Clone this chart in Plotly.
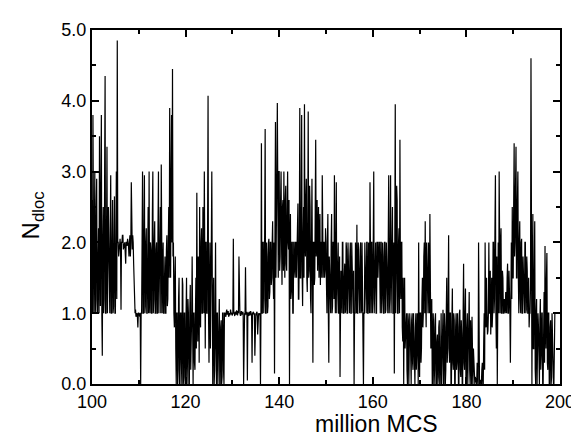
import plotly.graph_objects as go

# Time axis: samples every 0.1 million MCS starting at 100
t_start = 100.0
t_step = 0.1

# N_dloc values, one list per 5 million MCS
n_dloc_100 = [2.6, 1.0, 3.8, 1.5, 1.0, 2.0, 3.0, 1.0, 1.2, 2.5, 2.9, 1.0, 1.0, 1.8, 2.2, 1.0, 3.5, 2.0, 1.1, 2.8, 3.8, 1.0, 0.4, 2.0, 2.5, 1.0, 1.2, 3.0, 4.35, 1.0, 1.0, 2.0, 3.35, 1.0, 1.5, 2.5, 2.0, 1.0, 1.0, 2.2, 2.95, 1.0, 1.0, 2.0, 2.6, 1.0, 1.1, 2.0, 2.65, 1.0]
n_dloc_105 = [1.0, 2.0, 3.0, 1.2, 4.85, 2.0, 2.0, 1.8, 1.9, 2.0, 2.05, 1.9, 1.05, 2.0, 2.0, 2.1, 2.1, 1.9, 1.95, 2.0, 2.0, 1.85, 1.7, 2.0, 2.0, 1.95, 2.05, 2.0, 1.95, 1.8, 2.0, 2.1, 1.8, 2.0, 2.85, 1.9, 1.9, 2.1, 2.0, 1.7, 1.5, 1.2, 1.0, 1.05, 0.95, 1.0, 1.0, 0.95, 0.8, 1.0]
n_dloc_110 = [1.0, 0.98, 0.95, 1.0, 0.0, 1.0, 1.0, 2.0, 3.0, 1.0, 1.0, 2.2, 2.95, 1.0, 1.1, 2.0, 2.2, 1.0, 1.0, 1.8, 2.5, 1.0, 3.0, 1.2, 1.0, 2.0, 1.9, 1.0, 1.0, 2.4, 3.0, 1.0, 1.2, 2.0, 2.3, 1.0, 1.0, 1.9, 2.0, 1.0, 1.0, 2.2, 3.0, 1.0, 1.3, 2.0, 2.5, 1.0, 3.1, 1.2]
n_dloc_115 = [1.0, 1.6, 2.0, 1.0, 1.0, 1.5, 1.8, 1.0, 1.0, 1.9, 2.1, 1.1, 1.2, 2.0, 2.5, 1.5, 3.9, 2.0, 1.5, 3.0, 3.8, 2.0, 4.45, 1.8, 2.0, 1.0, 0.8, 1.5, 1.8, 0.5, 0.0, 1.0, 1.0, 0.0, 0.2, 1.2, 1.5, 0.0, 0.0, 1.0, 1.0, 0.3, 0.0, 1.5, 1.4, 0.0, 0.1, 1.0, 1.0, 0.0]
n_dloc_120 = [0.0, 1.0, 1.5, 0.0, 0.3, 1.2, 1.0, 0.0, 0.0, 1.0, 1.4, 0.2, 0.5, 1.0, 1.8, 0.0, 0.0, 1.0, 1.0, 0.3, 0.2, 1.0, 1.5, 0.5, 2.7, 1.0, 0.6, 1.8, 1.5, 0.3, 2.5, 1.0, 0.8, 2.0, 2.2, 1.0, 1.0, 2.5, 2.0, 1.0, 3.0, 1.5, 0.5, 2.0, 2.0, 1.0, 1.0, 2.2, 4.07, 1.0]
n_dloc_125 = [0.3, 1.5, 2.0, 0.5, 1.0, 2.0, 3.0, 1.0, 0.0, 1.2, 1.5, 0.0, 0.2, 1.0, 2.0, 0.5, 0.0, 1.0, 1.0, 0.0, 0.3, 1.0, 1.2, 0.0, 0.0, 0.8, 0.9, 0.0, 0.1, 1.0, 1.0, 0.2, 0.0, 1.0, 1.0, 0.97, 0.95, 1.02, 1.05, 0.98, 1.0, 1.03, 0.95, 1.0, 1.0, 0.97, 1.05, 1.0, 1.0, 0.98]
n_dloc_130 = [0.97, 1.02, 2.05, 1.0, 1.0, 0.96, 1.02, 1.0, 0.98, 1.04, 1.0, 0.97, 1.03, 1.0, 1.8, 1.0, 1.0, 0.97, 0.97, 1.03, 1.0, 0.98, 1.02, 1.0, 0.0, 1.0, 1.0, 0.97, 1.65, 1.0, 0.98, 1.02, 0.05, 1.0, 1.0, 0.96, 1.02, 1.0, 0.97, 1.03, 1.0, 0.98, 0.3, 1.0, 1.0, 1.02, 0.98, 1.0, 0.4, 1.0]
n_dloc_135 = [1.0, 0.97, 1.02, 1.0, 0.7, 1.0, 1.0, 0.98, 0.98, 1.0, 0.0, 1.0, 3.4, 1.0, 1.0, 2.0, 2.0, 1.0, 1.2, 2.2, 3.6, 1.0, 1.0, 2.0, 1.8, 1.0, 1.1, 2.0, 2.05, 1.2, 1.3, 2.0, 2.0, 1.4, 1.5, 2.0, 2.3, 1.5, 1.2, 2.0, 0.15, 2.2, 3.7, 1.5, 2.0, 3.0, 3.97, 1.8, 1.5, 3.0]
n_dloc_140 = [3.0, 1.6, 1.8, 2.6, 3.0, 2.0, 1.4, 2.5, 2.6, 1.6, 3.0, 2.0, 1.5, 2.6, 2.8, 1.7, 1.6, 2.4, 3.0, 2.0, 1.9, 2.6, 0.0, 2.0, 2.4, 1.2, 1.3, 2.0, 2.0, 1.0, 1.0, 2.0, 2.0, 1.6, 1.5, 2.0, 2.0, 1.5, 1.8, 2.0, 2.55, 1.2, 1.2, 2.0, 3.9, 1.5, 1.5, 2.2, 3.8, 1.6]
n_dloc_145 = [1.1, 2.0, 2.5, 1.5, 3.95, 2.0, 1.8, 2.6, 2.9, 1.5, 1.3, 2.2, 3.85, 1.5, 1.6, 2.8, 2.5, 1.2, 1.0, 2.0, 2.9, 1.5, 0.3, 2.0, 2.0, 1.4, 1.5, 2.5, 3.45, 1.8, 2.0, 2.6, 1.6, 2.0, 2.5, 1.5, 2.0, 2.4, 1.4, 2.0, 2.0, 1.5, 2.95, 1.8, 1.5, 2.0, 2.0, 1.5, 1.6, 2.2]
n_dloc_150 = [2.0, 1.4, 1.0, 2.0, 2.4, 1.0, 0.3, 1.8, 1.5, 1.0, 1.0, 2.0, 2.4, 1.0, 1.1, 2.0, 2.0, 1.2, 2.95, 1.5, 1.0, 2.0, 2.85, 1.0, 1.3, 2.0, 2.0, 1.0, 1.0, 1.8, 0.1, 1.0, 1.6, 1.0, 1.0, 2.0, 2.0, 1.0, 1.0, 1.5, 1.7, 1.0, 1.05, 2.0, 1.9, 1.0, 1.0, 2.0, 1.4, 1.0]
n_dloc_155 = [1.0, 1.8, 2.0, 1.0, 1.0, 2.0, 1.5, 1.0, 1.0, 1.6, 0.0, 1.0, 1.0, 2.0, 1.8, 1.0, 2.25, 1.0, 1.0, 2.0, 1.6, 1.0, 1.0, 1.9, 2.0, 1.0, 1.05, 2.0, 1.3, 1.0, 0.0, 1.0, 1.0, 2.0, 1.7, 1.0, 1.0, 2.0, 2.0, 1.0, 1.0, 2.0, 1.5, 1.0, 2.85, 1.5, 1.0, 2.0, 2.0, 1.0]
n_dloc_160 = [1.2, 2.0, 3.0, 1.0, 1.5, 2.0, 2.0, 1.0, 1.0, 2.0, 2.0, 1.5, 1.9, 2.0, 2.0, 1.0, 1.0, 2.0, 2.0, 1.0, 1.2, 2.0, 1.8, 1.0, 1.0, 2.0, 2.0, 1.0, 1.05, 2.0, 1.5, 1.0, 1.0, 2.0, 2.95, 1.0, 1.2, 2.0, 2.95, 1.0, 1.5, 2.0, 2.5, 1.0, 1.0, 2.0, 0.15, 2.0, 3.95, 1.0]
n_dloc_165 = [1.5, 2.8, 2.6, 1.0, 1.0, 2.0, 2.2, 1.0, 3.45, 1.5, 1.2, 2.0, 2.0, 0.8, 0.6, 1.5, 0.0, 1.0, 1.5, 0.5, 0.8, 1.0, 1.0, 0.2, 0.0, 1.0, 0.9, 0.0, 0.3, 1.0, 0.8, 0.0, 0.0, 0.9, 1.0, 0.3, 0.2, 1.0, 0.7, 0.0, 0.0, 0.8, 1.0, 0.2, 0.4, 1.0, 0.9, 0.0, 2.0, 0.5]
n_dloc_170 = [0.1, 1.0, 1.0, 0.3, 0.5, 1.2, 1.5, 0.8, 1.0, 1.8, 2.0, 1.0, 2.3, 1.2, 0.8, 2.0, 1.6, 1.0, 1.0, 2.0, 1.5, 1.0, 2.4, 1.2, 0.5, 1.0, 1.2, 0.0, 0.0, 1.0, 0.8, 0.0, 0.2, 0.9, 1.0, 0.0, 0.0, 0.6, 0.7, 0.0, 0.1, 0.8, 0.9, 0.0, 0.0, 0.5, 1.0, 0.0, 0.3, 0.9]
n_dloc_175 = [1.05, 0.0, 0.0, 1.0, 0.8, 0.0, 0.2, 1.0, 1.5, 0.3, 0.5, 1.2, 2.1, 0.5, 0.3, 1.0, 1.0, 0.0, 0.0, 0.9, 1.35, 0.3, 0.2, 1.0, 0.9, 0.0, 0.0, 0.8, 1.0, 0.2, 0.3, 1.0, 0.8, 0.0, 0.0, 1.0, 1.05, 0.2, 0.1, 0.9, 0.7, 0.0, 0.0, 1.0, 1.7, 0.3, 0.2, 1.0, 1.35, 0.0]
n_dloc_180 = [0.0, 0.8, 1.0, 0.0, 0.3, 1.0, 1.3, 0.2, 0.0, 0.9, 0.6, 0.0, 0.95, 0.2, 0.0, 0.5, 0.3, 0.0, 0.0, 0.1, 0.05, 0.0, 0.0, 0.3, 0.1, 0.0, 2.0, 0.0, 0.0, 0.05, 0.05, 0.0, 0.0, 0.2, 0.3, 0.0, 0.0, 0.6, 1.0, 0.2, 2.0, 1.0, 0.8, 1.5, 1.0, 0.7, 0.75, 1.0, 2.0, 1.0]
n_dloc_185 = [1.0, 1.6, 0.7, 1.0, 1.5, 0.8, 1.0, 2.0, 2.0, 1.0, 1.2, 2.2, 2.95, 1.0, 0.5, 1.8, 0.0, 1.0, 2.0, 1.0, 3.0, 1.5, 1.0, 2.0, 2.2, 1.0, 1.0, 1.6, 1.5, 1.0, 1.0, 1.2, 1.05, 1.0, 1.3, 1.0, 1.0, 1.5, 1.7, 1.0, 1.0, 1.6, 1.4, 1.0, 0.3, 1.8, 2.0, 1.2, 2.5, 1.5]
n_dloc_190 = [1.5, 2.5, 3.4, 1.8, 2.0, 2.8, 3.35, 1.5, 1.5, 2.6, 3.0, 1.5, 1.0, 2.0, 2.3, 1.2, 1.0, 2.0, 2.05, 1.0, 1.0, 1.8, 1.5, 1.0, 1.0, 2.0, 2.0, 1.0, 1.05, 1.8, 1.6, 1.0, 1.0, 1.5, 0.8, 1.0, 1.0, 1.4, 4.6, 1.0, 0.0, 1.5, 2.4, 0.5, 0.5, 1.6, 2.3, 0.2, 0.0, 1.0]
n_dloc_195 = [1.2, 0.0, 0.3, 1.0, 0.8, 0.0, 0.0, 0.9, 1.2, 0.2, 0.4, 1.0, 1.0, 0.0, 0.0, 0.7, 1.3, 0.3, 1.95, 0.8, 0.5, 1.5, 1.85, 0.3, 0.2, 1.0, 1.0, 0.0, 0.0, 0.8, 0.9, 0.0, 0.1, 1.0, 0.6, 0.0, 0.0, 0.0, 1.0, 1.0, 1.0, 1.0, 1.0, 1.0, 1.0, 1.0, 1.0, 1.0, 1.0, 1.0, 1.0]

n_dloc = (n_dloc_100 + n_dloc_105 + n_dloc_110 + n_dloc_115 + n_dloc_120 +
          n_dloc_125 + n_dloc_130 + n_dloc_135 + n_dloc_140 + n_dloc_145 +
          n_dloc_150 + n_dloc_155 + n_dloc_160 + n_dloc_165 + n_dloc_170 +
          n_dloc_175 + n_dloc_180 + n_dloc_185 + n_dloc_190 + n_dloc_195)
mcs = [round(t_start + i * t_step, 4) for i in range(len(n_dloc))]

x_ticks = [100, 120, 140, 160, 180, 200]
y_ticks = [0.0, 1.0, 2.0, 3.0, 4.0, 5.0]

FONT = "Liberation Sans, Arial, sans-serif"

fig = go.Figure()
fig.add_trace(go.Scatter(x=mcs, y=n_dloc, mode="lines",
                         line=dict(color="black", width=1.2), showlegend=False))

axis_common = dict(showline=True, linecolor="black", linewidth=2, mirror="ticks",
                   ticks="inside", ticklen=7, tickwidth=1.5, tickcolor="black",
                   showgrid=False, zeroline=False, ticklabeloverflow="allow",
                   tickfont=dict(family=FONT, size=18, color="black"))

fig.update_layout(
    width=579, height=436,
    margin=dict(l=84, r=14, t=12, b=60),
    paper_bgcolor="white", plot_bgcolor="white",
    xaxis=dict(range=[100, 200], tickvals=x_ticks, ticktext=[str(v) for v in x_ticks],
               minor=dict(dtick=10, ticks="inside", ticklen=4, tickcolor="black"),
               **axis_common),
    yaxis=dict(range=[0, 5], tickvals=y_ticks, ticktext=[f"{v:.1f}" for v in y_ticks],
               minor=dict(dtick=0.5, ticks="inside", ticklen=4, tickcolor="black"),
               **axis_common),
    annotations=[
        dict(text="million MCS", xref="paper", yref="paper",
             x=0.607, y=-0.112, xanchor="center", yanchor="middle", borderpad=0,
             showarrow=False, font=dict(family=FONT, size=23, color="black")),
        dict(text="N<sub>dloc</sub>", xref="paper", yref="paper",
             x=-0.127, y=0.475, xanchor="center", yanchor="middle", textangle=-90,
             showarrow=False, font=dict(family=FONT, size=24, color="black")),
    ],
)

fig.write_html("out.html")
